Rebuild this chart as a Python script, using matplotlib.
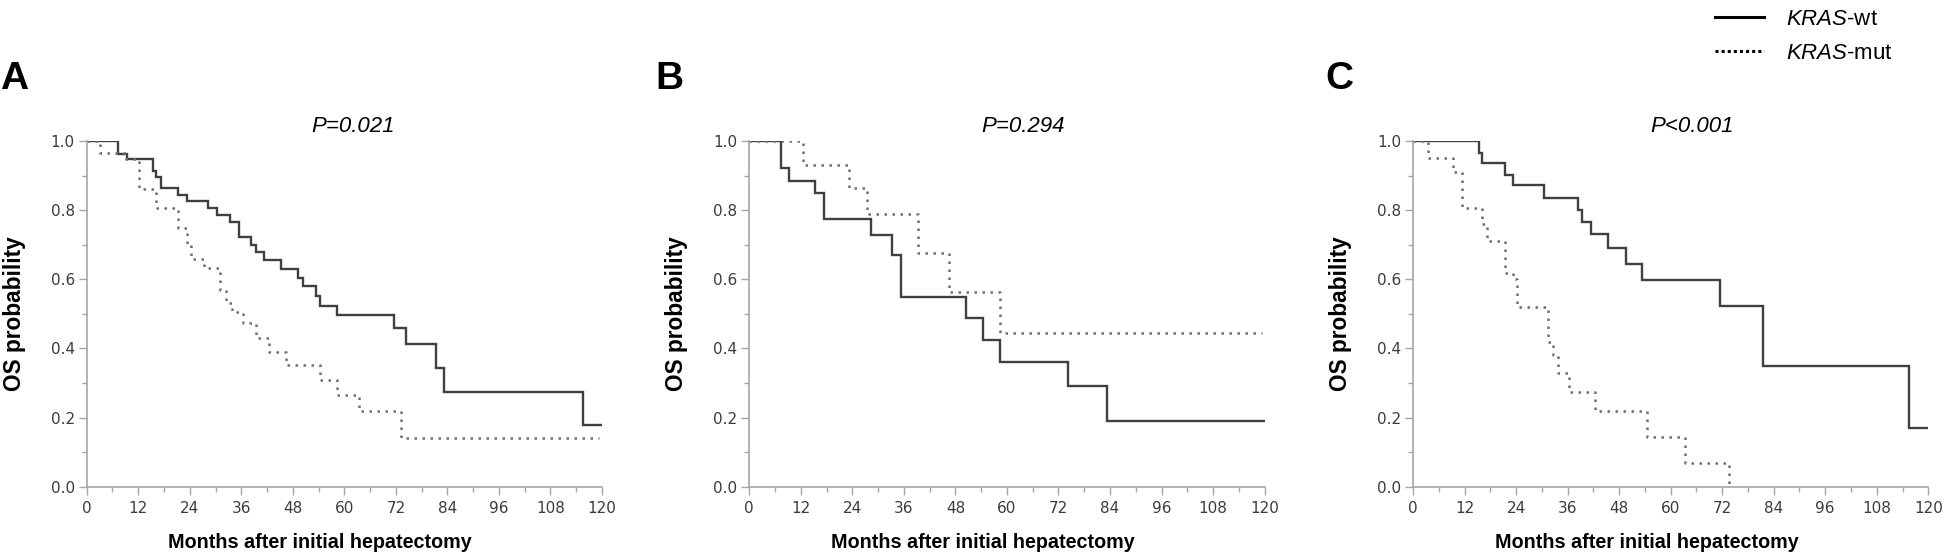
import numpy as np
import matplotlib
matplotlib.use('Agg')
import matplotlib.pyplot as plt
from matplotlib.lines import Line2D
from matplotlib.ticker import MultipleLocator

plt.rcParams['mathtext.fontset'] = 'custom'
plt.rcParams['mathtext.it'] = 'Liberation Sans:italic'
plt.rcParams['mathtext.rm'] = 'Liberation Sans'

# panel A
a_wt_t = [0, 7.3, 9.4, 15.4, 16.2, 17.2, 21.2, 23.3, 28.3, 30.3, 33.4, 35.4, 38.2, 39.4, 41.3,
          45.3, 49.3, 50.4, 53.4, 54.4, 58.4, 71.6, 74.3, 81.4, 83.2, 115.6, 120]
a_wt_s = [1.0, 0.963, 0.947, 0.913, 0.895, 0.863, 0.845, 0.826, 0.807, 0.787, 0.765, 0.722, 0.70,
          0.678, 0.655, 0.63, 0.604, 0.58, 0.551, 0.522, 0.496, 0.46, 0.413, 0.343, 0.273, 0.179, 0.179]
a_mut_t = [0, 3.0, 9.1, 12.1, 16.2, 21.2, 23.3, 24.3, 27.3, 31.1, 32.4, 33.9, 36.4, 39.4, 42.5,
           46.3, 54.4, 58.4, 63.5, 73.3, 119.3]
a_mut_s = [1.0, 0.966, 0.947, 0.86, 0.805, 0.749, 0.696, 0.66, 0.633, 0.57, 0.53, 0.505, 0.473,
           0.43, 0.391, 0.353, 0.309, 0.266, 0.22, 0.142, 0.142]

# panel B
b_wt_t = [0, 7.3, 9.3, 15.4, 17.4, 28.3, 33.3, 35.4, 50.4, 54.4, 58.3, 74.3, 83.4, 120]
b_wt_s = [1.0, 0.923, 0.884, 0.85, 0.775, 0.727, 0.669, 0.548, 0.488, 0.425, 0.362, 0.29, 0.191, 0.191]
b_mut_t = [0, 12.4, 23.3, 27.4, 39.4, 46.4, 58.3, 119.3]
b_mut_s = [1.0, 0.932, 0.865, 0.79, 0.676, 0.562, 0.446, 0.446]

# panel C
c_wt_t = [0, 15.3, 16.1, 21.4, 23.3, 30.4, 38.4, 39.4, 41.4, 45.5, 49.5, 53.4, 71.4, 81.4, 115.4, 120]
c_wt_s = [1.0, 0.964, 0.935, 0.903, 0.872, 0.836, 0.80, 0.765, 0.731, 0.691, 0.645, 0.599, 0.524,
          0.348, 0.171, 0.171]
c_mut_t = [0, 3.4, 9.4, 11.3, 16.1, 17.2, 21.4, 23.3, 24.2, 31.4, 32.6, 33.8, 36.4, 42.3, 54.4, 63.4, 73.6]
c_mut_s = [1.0, 0.95, 0.91, 0.805, 0.76, 0.71, 0.618, 0.60, 0.52, 0.42, 0.38, 0.328, 0.275, 0.22,
           0.145, 0.068, 0.0]

letters = ['A', 'B', 'C']
pvals = ['P=0.021', 'P=0.294', 'P<0.001']
xticks = [0, 12, 24, 36, 48, 60, 72, 84, 96, 108, 120]
yticks = [0.0, 0.2, 0.4, 0.6, 0.8, 1.0]

panels = [(a_wt_t, a_wt_s, a_mut_t, a_mut_s),
          (b_wt_t, b_wt_s, b_mut_t, b_mut_s),
          (c_wt_t, c_wt_s, c_mut_t, c_mut_s)]

W, H = 1944, 556
fig = plt.figure(figsize=(W / 100, H / 100), dpi=100)

lefts = [86.7, 749.3, 1413]
letter_x = [0, 655, 1325]
title_x = [0.516, 0.531, 0.542]
axw = 515.3
ax_bottom = (H - 486.7) / H
ax_h = 345.7 / H

axcol = '#a6a6a6'
for i, (wt_t, wt_s, mut_t, mut_s) in enumerate(panels):
    ax = fig.add_axes([lefts[i] / W, ax_bottom, axw / W, ax_h])
    ax.step(wt_t, wt_s, where='post', color='#404040', lw=1.7, solid_joinstyle='miter')
    ax.step(mut_t, mut_s, where='post', color='#6e6e6e', lw=1.8, linestyle=(0, (1, 2.2)))
    ax.set_xlim(0, 120)
    ax.set_ylim(0, 1.0)
    ax.set_xticks(xticks)
    ax.set_yticks(yticks)
    ax.set_yticklabels(['%.1f' % v for v in yticks])
    ax.xaxis.set_minor_locator(MultipleLocator(6))
    ax.yaxis.set_minor_locator(MultipleLocator(0.1))
    for s in ['top', 'right']:
        ax.spines[s].set_visible(False)
    for s in ['left', 'bottom']:
        ax.spines[s].set_color(axcol)
        ax.spines[s].set_linewidth(1.2)
    ax.tick_params(which='major', length=5.5, width=1.0, color=axcol,
                   labelsize=11, labelcolor='#3c3c3c', pad=3)
    ax.tick_params(which='minor', length=3.5, width=1.0, color=axcol)
    ax.tick_params(axis='x', which='major', pad=5)
    ax.set_xlabel('Months after initial hepatectomy', family='Liberation Sans',
                  fontweight='bold', fontsize=14.2, va='center')
    ax.xaxis.set_label_coords(0.453, -0.162)
    ax.set_ylabel('OS probability', family='Liberation Sans', fontweight='bold', fontsize=16.3)
    ax.yaxis.set_label_coords(-0.118, 0.5)
    ax.text(title_x[i], 1.041, pvals[i], transform=ax.transAxes, ha='center', va='center',
            family='Liberation Sans', style='italic', fontsize=16)
    fig.text(letter_x[i] / W, (H - 79) / H, letters[i], family='Liberation Sans',
             fontweight='bold', fontsize=28, ha='left', va='center')

handles = [Line2D([], [], color='black', lw=2.2),
           Line2D([], [], color='black', lw=2.2, linestyle=(0, (1, 1)))]
labels = [r'$\it{KRAS}$-wt', r'$\it{KRAS}$-mut']
fig.legend(handles, labels, loc='upper left', bbox_to_anchor=(1695 / W, 1.02),
           frameon=False, handlelength=2.2, handletextpad=1.0,
           labelspacing=0.6, prop={'family': 'Liberation Sans', 'size': 16})

fig.savefig('out.png', dpi=100)
